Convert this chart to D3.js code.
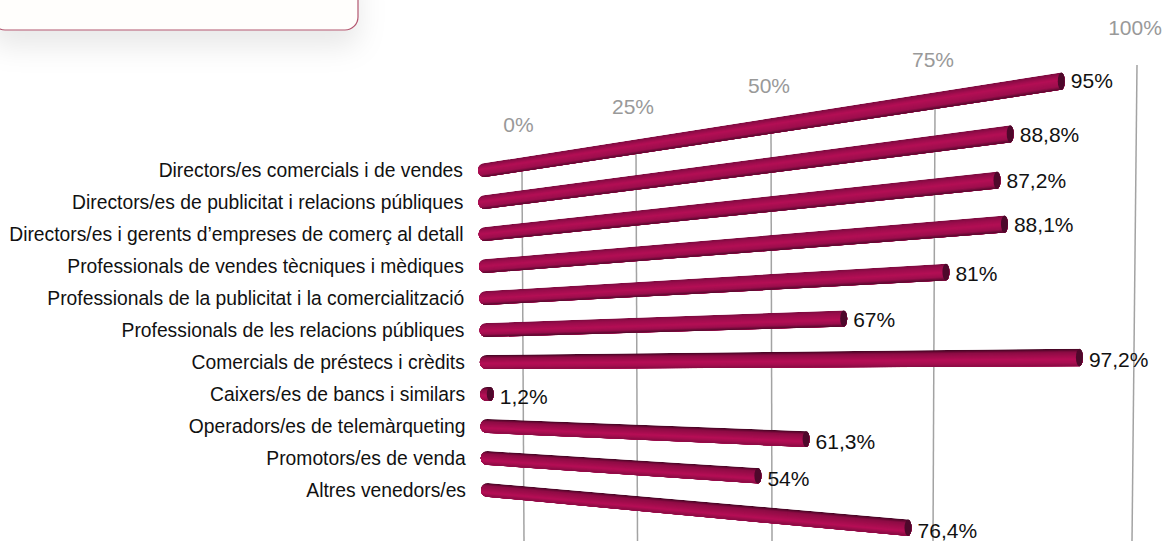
<!DOCTYPE html>
<html>
<head>
<meta charset="utf-8">
<script src="https://cdnjs.cloudflare.com/ajax/libs/d3/7.8.5/d3.min.js"></script>
<style>
  html, body { margin: 0; padding: 0; background: #fff; }
  svg { display: block; font-family: "Liberation Sans", Arial, sans-serif; }
</style>
</head>
<body>
<svg id="chart"></svg>
<script>
const categories = [
  "Directors/es comercials i de vendes",
  "Directors/es de publicitat i relacions públiques",
  "Directors/es i gerents d’empreses de comerç al detall",
  "Professionals de vendes tècniques i mèdiques",
  "Professionals de la publicitat i la comercialització",
  "Professionals de les relacions públiques",
  "Comercials de préstecs i crèdits",
  "Caixers/es de bancs i similars",
  "Operadors/es de telemàrqueting",
  "Promotors/es de venda",
  "Altres venedors/es"
];
const values = [95, 88.8, 87.2, 88.1, 81, 67, 97.2, 1.2, 61.3, 54, 76.4];
const tickValues = [0, 25, 50, 75, 100];
const tickLabels = ["0%", "25%", "50%", "75%", "100%"];

const width = 1165, height = 541;
const svg = d3.select("#chart").attr("width", width).attr("height", height);

// perspective: everything fans out from a point far off to the left
const vanishX = -825, vanishY = 372, halfBar = 7;

const rowY = d3.scalePoint().domain(d3.range(categories.length)).range([170, 490]);
const labelX = d3.scaleLinear().domain([0, 10]).range([463, 466]);
const startX = d3.scaleLinear().domain([0, 10]).range([485, 488]);
const barX = d3.scaleLinear().domain(tickValues).range([488, 608, 735, 900, 1106]);
const gridTopX = d3.scaleLinear().domain(tickValues).range([522, 636, 771, 935, 1137]);
const gridBottomX = d3.scaleLinear().domain(tickValues).range([524, 637.5, 772, 933, 1132]);
const gridTopY = d3.scaleLinear().domain(tickValues).range([172, 150, 130, 108, 65]);
const tickLabelX = d3.scaleLinear().domain(tickValues).range([518.5, 633, 769, 933, 1135]);
const tickLabelY = d3.scaleLinear().domain(tickValues).range([125, 107, 86, 60, 28]);
const labelShift = d3.scaleLinear().domain([0, 10]).range([0, 3]);

function fanY(i, x, t) {
  let x0 = startX(i);
  let center = vanishY + (rowY(i) - vanishY) * (x - vanishX) / (x0 - vanishX);
  // the tube only thickens a little towards the far end
  return center + t * halfBar * (1 + 0.25 * (x - x0) / 580);
}

// card cut off at the top of the picture
let defs = svg.append("defs");
let shadow = defs.append("filter").attr("id", "cardShadow")
  .attr("x", "-20%").attr("y", "-50%").attr("width", "140%").attr("height", "300%");
shadow.append("feDropShadow")
  .attr("dx", 0).attr("dy", 16).attr("stdDeviation", 14)
  .attr("flood-color", "#000").attr("flood-opacity", 0.09);

svg.append("rect")
  .attr("x", -8).attr("y", -40).attr("width", 366).attr("height", 70).attr("rx", 13)
  .attr("fill", "#fffefc").attr("stroke", "#b2566f").attr("stroke-width", 1.2)
  .attr("filter", "url(#cardShadow)");

// grid
svg.append("g").selectAll("line")
  .data(tickValues)
  .enter().append("line")
    .attr("x1", d => gridTopX(d))
    .attr("x2", d => gridBottomX(d))
    .attr("y1", d => gridTopY(d))
    .attr("y2", height)
    .attr("stroke", "#a3a3a3")
    .attr("stroke-width", 1.5);

svg.append("g").selectAll("text")
  .data(tickValues)
  .enter().append("text")
    .attr("x", d => tickLabelX(d))
    .attr("y", d => tickLabelY(d))
    .attr("dy", "0.35em")
    .attr("text-anchor", "middle")
    .attr("fill", "#999")
    .style("font-size", "21px")
    .text((d, i) => tickLabels[i]);

// category labels
svg.append("g").selectAll("text")
  .data(categories)
  .enter().append("text")
    .attr("x", (d, i) => labelX(i))
    .attr("y", (d, i) => rowY(i))
    .attr("dy", "0.35em")
    .attr("text-anchor", "end")
    .attr("fill", "#111")
    .style("font-size", "19.3px")
    .text(d => d);

// bars, built from overlapping strips so the tube shading follows the slant
const stripCount = 16;
const strips = d3.range(stripCount);
const stripT = d3.scaleLinear().domain([0, stripCount]).range([-1, 1]);
const highlight = d3.scaleLinear().domain([0, 10]).range([-0.2, 0.45]);

let bars = svg.append("g").selectAll("g")
  .data(values)
  .enter().append("g");

bars.each(function(v, i) {
  let g = d3.select(this);
  let x0 = startX(i), x1 = barX(v);
  let capL = 7, capR = 3.5;
  let xA = x0, xB = Math.max(x1 - capR, x0);

  let outline = `M${xA},${fanY(i, xA, -1)} L${xB},${fanY(i, xB, -1)}` +
    ` A${capR},${(fanY(i, xB, 1) - fanY(i, xB, -1)) / 2} 0 0 1 ${xB},${fanY(i, xB, 1)}` +
    ` L${xA},${fanY(i, xA, 1)}` +
    ` A${capL},${halfBar} 0 0 1 ${xA},${fanY(i, xA, -1)} Z`;

  g.append("clipPath").attr("id", `bar${i}`).append("path").attr("d", outline);

  let color = d3.scaleLinear()
    .domain([-1, -0.6, highlight(i), 0.6, 1])
    .range(i < 6 ? ["#7a0c3e", "#9a0d4c", "#b40f55", "#9c0e4d", "#4e082a"]
                 : ["#3d0520", "#8c0c44", "#b60e56", "#a80e50", "#860c43"])
    .interpolate(d3.interpolateRgb);

  let inner = g.append("g").attr("clip-path", `url(#bar${i})`);
  let xL = x0 - capL - 1, xR = x1 + 1;
  // each strip runs down to the bottom edge and the next one paints over it
  inner.selectAll("path")
    .data(strips)
    .enter().append("path")
      .attr("fill", s => color(stripT(s + 0.5)))
      .attr("d", s => {
        let t0 = stripT(s);
        return `M${xL},${fanY(i, xL, t0)} L${xR},${fanY(i, xR, t0)} L${xR},${fanY(i, xR, 1)} L${xL},${fanY(i, xL, 1)} Z`;
      });

  // dark end of the tube
  let ry = (fanY(i, xB, 1) - fanY(i, xB, -1)) / 2;
  g.append("ellipse")
    .attr("cx", xB).attr("cy", fanY(i, xB, 0))
    .attr("rx", capR).attr("ry", ry)
    .attr("fill", "#4e082b");

  g.append("text")
    .attr("x", x1 + 6)
    .attr("y", fanY(i, xB, 0) + labelShift(i))
    .attr("dy", "0.35em")
    .attr("fill", "#111")
    .style("font-size", "21px")
    .text(String(v).replace(".", ",") + "%");
});
</script>
</body>
</html>
